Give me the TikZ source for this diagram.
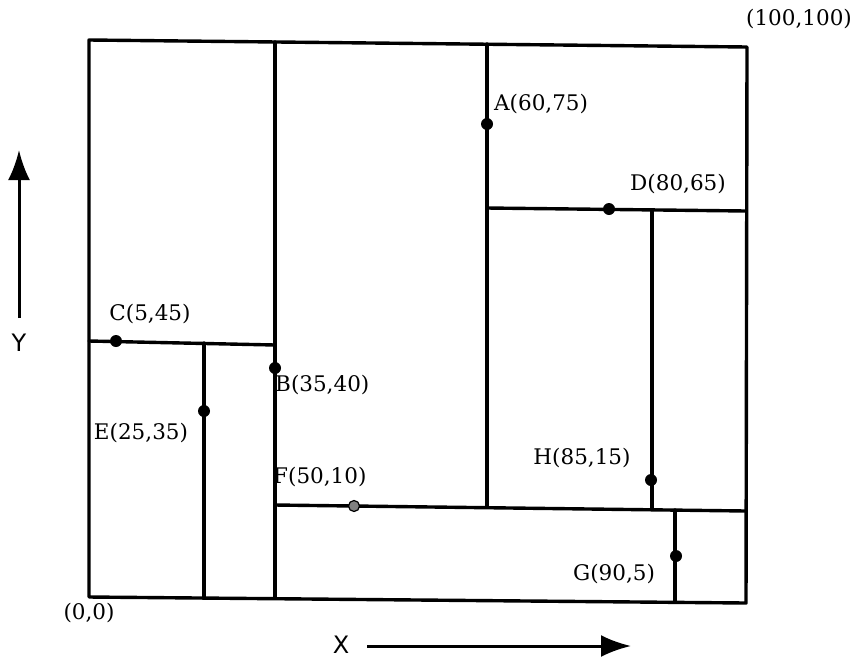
\documentclass[tikz,border=0pt]{standalone}
\usepackage{fontspec}
\setmainfont{DejaVu Serif}
\newfontfamily\axisfont{DejaVu Sans}
\usetikzlibrary{arrows.meta}
\tikzset{
  part/.style={line width=3.4pt, line cap=round, line join=round},
  pt/.style={circle, fill=black, inner sep=0pt, minimum size=12pt},
  ptgray/.style={circle, fill=gray, draw=black, line width=1.2pt, inner sep=0pt, minimum size=11pt},
  lbl/.style={inner sep=0pt, font=\fontsize{21.5}{24}\selectfont},
  axlbl/.style={inner sep=0pt, font=\axisfont\fontsize{24}{26}\selectfont},
  axarrow/.style={line width=3pt, -{Latex[length=30pt,width=22pt]}}
}
\begin{document}
\begin{tikzpicture}[x=1pt,y=-1pt]
\useasboundingbox (0,0) rectangle (858,662);
% outer frame corners
\coordinate (tl) at (89,40);
\coordinate (tr) at (747,47);
\coordinate (br) at (746,603);
\coordinate (bl) at (89,597);
\draw[part] (tl) -- (tr) -- (br) -- (bl) -- cycle;
% partition lines
\coordinate (b1) at (275,42);  \coordinate (b2) at (275,598);
\coordinate (c1) at (89,341);  \coordinate (c2) at (275,345);
\coordinate (e1) at (204,343); \coordinate (e2) at (204,597);
\coordinate (a1) at (487,44);  \coordinate (a2) at (487,506);
\coordinate (d1) at (487,208); \coordinate (d2) at (746,211);
\coordinate (h1) at (652,210); \coordinate (h2) at (652,509);
\coordinate (f1) at (275,505); \coordinate (f2) at (746,511);
\coordinate (g1) at (675,510); \coordinate (g2) at (675,601);
\draw[part] (b1) -- (b2);
\draw[part] (c1) -- (c2);
\draw[part] (e1) -- (e2);
\draw[part] (a1) -- (a2);
\draw[part] (d1) -- (d2);
\draw[part] (h1) -- (h2);
\draw[part] (f1) -- (f2);
\draw[part] (g1) -- (g2);
% points
\node[pt] (A) at (487,124) {};
\node[pt] (D) at (609,209) {};
\node[pt] (C) at (116,341) {};
\node[pt] (B) at (275,368) {};
\node[pt] (E) at (204,411) {};
\node[ptgray] (F) at (354,506) {};
\node[pt] (H) at (651,480) {};
\node[pt] (G) at (676,556) {};
% labels
\node[lbl, anchor=west] (lA) at (494,104) {A(60,75)};
\node[lbl] (lD) at (678,184) {D(80,65)};
\node[lbl] (lC) at (150,314) {C(5,45)};
\node[lbl, anchor=west] (lB) at (275,385) {B(35,40)};
\node[lbl] (lE) at (141,433) {E(25,35)};
\node[lbl, anchor=west] (lF) at (273,477) {F(50,10)};
\node[lbl] (lH) at (582,458) {H(85,15)};
\node[lbl] (lG) at (614,574) {G(90,5)};
\node[lbl] (ltr) at (799,19) {(100,100)};
\node[lbl] (lbl0) at (89,613) {(0,0)};
% axes
\node[axlbl] (X) at (341,645) {X};
\coordinate (xs) at (367,646);
\coordinate (xe) at (631,646);
\draw[axarrow] (xs) -- (xe);
\node[axlbl] (Y) at (19,343) {Y};
\coordinate (ys) at (19,318);
\coordinate (ye) at (19,150);
\draw[axarrow] (ys) -- (ye);
\end{tikzpicture}
\end{document}
